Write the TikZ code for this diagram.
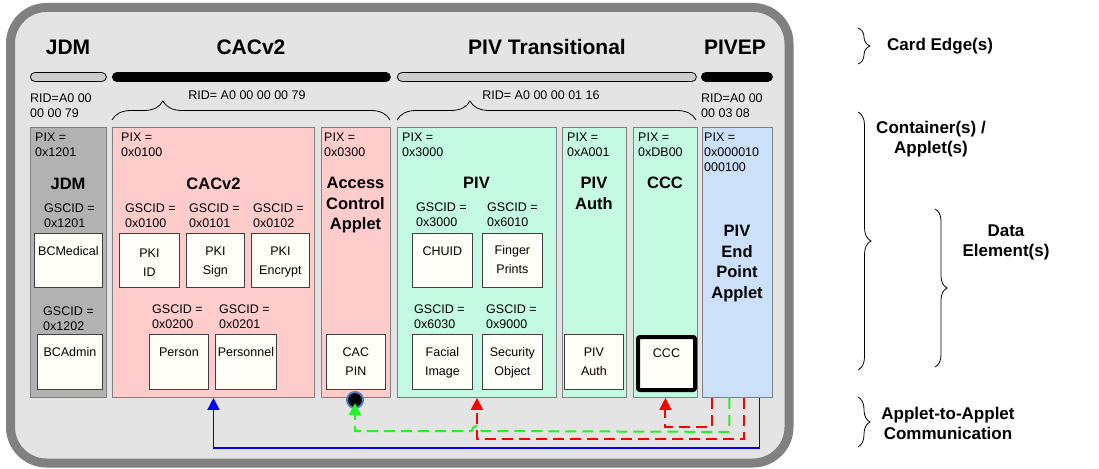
\documentclass[tikz,border=0pt]{standalone}
\usepackage{fontspec}
\setmainfont{Liberation Sans}
\usetikzlibrary{arrows.meta,decorations.pathreplacing,calc}
\definecolor{cardbg}{RGB}{228,228,228}
\definecolor{cardedge}{RGB}{128,128,128}
\definecolor{jdmfill}{RGB}{178,178,178}
\definecolor{cacfill}{RGB}{255,204,204}
\definecolor{pivfill}{RGB}{196,250,226}
\definecolor{epfill}{RGB}{204,224,250}
\definecolor{barfill}{RGB}{204,204,204}
\definecolor{boxfill}{RGB}{255,255,247}
\definecolor{panelline}{RGB}{128,128,128}
\definecolor{linkred}{RGB}{255,0,0}
\definecolor{linkgreen}{RGB}{40,240,40}
\definecolor{linkblue}{RGB}{0,0,255}
\definecolor{ringblue}{RGB}{79,129,189}
\begin{document}
\begin{tikzpicture}[x=1pt,y=-1pt,
  panel/.style={draw=panelline,line width=0.9pt,anchor=north west,minimum height=270pt,inner sep=0pt},
  dbox/.style={draw=black!75,line width=0.8pt,fill=boxfill,anchor=north west,inner sep=0pt},
  txt/.style={inner sep=0pt,font=\fontsize{12.5}{15}\selectfont,align=left},
  btxt/.style={inner sep=0pt,font=\fontsize{12.5}{19}\selectfont,align=center,anchor=north},
  ptitle/.style={inner sep=0pt,font=\fontsize{16.5}{20.5}\selectfont\bfseries,align=center},
  ttitle/.style={inner sep=0pt,font=\fontsize{21}{25}\selectfont\bfseries},
  rlabel/.style={inner sep=0pt,font=\fontsize{17}{20}\selectfont\bfseries,align=center},
  edgebar/.style={rounded corners=4.5pt,minimum height=9pt,inner sep=0pt,anchor=west,line width=0.8pt},
  rbrace/.style={decorate,decoration={brace,amplitude=12pt},line width=0.8pt},
  tbrace/.style={decorate,decoration={brace,amplitude=19pt,aspect=#1},line width=0.8pt},
  link/.style={line width=2pt,dash pattern=on 11pt off 6pt},
  tip/.style={-{Triangle[length=12pt,width=12pt]}}
]
\useasboundingbox (0,0) rectangle (1099,468);
% card
\draw[line width=9pt,draw=cardedge,fill=cardbg,rounded corners=36pt] (10.5,7.5) rectangle (789,463);

% card edge titles and bars
\node[ttitle] (tJDM) at (68,47) {JDM};
\node[ttitle] (tCAC) at (251,47) {CACv2};
\node[ttitle] (tPIVT) at (547,47) {PIV Transitional};
\node[ttitle] (tPIVEP) at (735,47) {PIVEP};
\node[edgebar,draw=black,fill=barfill,minimum width=76pt] (bJDM) at (30,77) {};
\node[edgebar,draw=black,fill=black,minimum width=278pt] (bCAC) at (112,77) {};
\node[edgebar,draw=black,fill=barfill,minimum width=299pt] (bPIVT) at (397,77) {};
\node[edgebar,draw=black,fill=black,minimum width=71pt] (bPIVEP) at (701,77) {};

% RIDs
\node[txt,anchor=north west] (ridJ) at (30,93.5) {RID=A0 00\\00 00 79};
\node[txt] (ridC) at (247,95) {RID= A0 00 00 00 79};
\node[txt] (ridP) at (541,95) {RID= A0 00 00 01 16};
\node[txt,anchor=north west] (ridE) at (701,93.5) {RID=A0 00\\00 03 08};
\draw[tbrace=0.183] (112,120) -- (390,120);
\draw[tbrace=0.244] (397,120) -- (696,120);

% panels
\node[panel,fill=jdmfill,minimum width=76pt] (jdmP) at (30,127) {};
\node[panel,fill=cacfill,minimum width=202pt] (cacP) at (112,127) {};
\node[panel,fill=cacfill,minimum width=69pt] (accP) at (321,127) {};
\node[panel,fill=pivfill,minimum width=159pt] (pivP) at (397,127) {};
\node[panel,fill=pivfill,minimum width=64pt] (authP) at (562,127) {};
\node[panel,fill=pivfill,minimum width=64pt] (cccP) at (633,127) {};
\node[panel,fill=epfill,minimum width=70pt] (epP) at (702,127) {};

% PIX
\node[txt,anchor=north west] (pixJ) at (35,132.5) {PIX =\\0x1201};
\node[txt,anchor=north west] (pixC) at (121,132.5) {PIX =\\0x0100};
\node[txt,anchor=north west] (pixA) at (324,132.5) {PIX =\\0x0300};
\node[txt,anchor=north west] (pixP) at (402,132.5) {PIX =\\0x3000};
\node[txt,anchor=north west] (pixU) at (567,132.5) {PIX =\\0xA001};
\node[txt,anchor=north west] (pixK) at (638,132.5) {PIX =\\0xDB00};
\node[txt,anchor=north west] (pixE) at (704,132.5) {PIX =\\0x000010\\000100};

% panel titles
\node[ptitle] (nJDM) at (68,184) {JDM};
\node[ptitle] (nCAC) at (213.5,184) {CACv2};
\node[ptitle,anchor=north] (nACC) at (355.5,177) {Access\\Control\\Applet};
\node[ptitle] (nPIV) at (476.5,183) {PIV};
\node[ptitle,anchor=north] (nAUTH) at (594,177) {PIV\\Auth};
\node[ptitle] (nCCC) at (665,183) {CCC};
\node[ptitle,anchor=north] (nEP) at (737,225) {PIV\\End\\Point\\Applet};

% GSCIDs
\node[txt,anchor=north west] (g1) at (44,203.5) {GSCID =\\0x1201};
\node[txt,anchor=north west] (g2) at (43,306.5) {GSCID =\\0x1202};
\node[txt,anchor=north west] (g3) at (125,203.5) {GSCID =\\0x0100};
\node[txt,anchor=north west] (g4) at (189,203.5) {GSCID =\\0x0101};
\node[txt,anchor=north west] (g5) at (253,203.5) {GSCID =\\0x0102};
\node[txt,anchor=north west] (g6) at (152,304.5) {GSCID =\\0x0200};
\node[txt,anchor=north west] (g7) at (219,304.5) {GSCID =\\0x0201};
\node[txt,anchor=north west] (g8) at (416,202.5) {GSCID =\\0x3000};
\node[txt,anchor=north west] (g9) at (487,202.5) {GSCID =\\0x6010};
\node[txt,anchor=north west] (g10) at (414,304.5) {GSCID =\\0x6030};
\node[txt,anchor=north west] (g11) at (486,304.5) {GSCID =\\0x9000};

% data elements
\node[dbox,minimum width=68pt,minimum height=54pt] (bcmed) at (34,233) {};
\node[btxt] (bcmedT) at ([yshift=-13.5pt]bcmed.north) {BCMedical};
\node[dbox,minimum width=65pt,minimum height=55pt] (bcadm) at (37,334) {};
\node[btxt] (bcadmT) at ([yshift=-13.5pt]bcadm.north) {BCAdmin};
\node[dbox,minimum width=60pt,minimum height=54pt] (pkiid) at (119,233) {};
\node[btxt] (pkiidT) at ([yshift=-15.5pt]pkiid.north) {PKI\\ID};
\node[dbox,minimum width=58pt,minimum height=54pt] (pkisg) at (186,233) {};
\node[btxt] (pkisgT) at ([yshift=-14pt]pkisg.north) {PKI\\Sign};
\node[dbox,minimum width=58pt,minimum height=54pt] (pkien) at (251,233) {};
\node[btxt] (pkienT) at ([yshift=-14pt]pkien.north) {PKI\\Encrypt};
\node[dbox,minimum width=59pt,minimum height=55pt] (person) at (149,334) {};
\node[btxt] (personT) at ([yshift=-13.5pt]person.north) {Person};
\node[dbox,minimum width=61pt,minimum height=55pt] (personl) at (215,334) {};
\node[btxt] (personlT) at ([yshift=-13.5pt]personl.north) {Personnel};
\node[dbox,minimum width=59pt,minimum height=55pt] (cacpin) at (326,334) {};
\node[btxt] (cacpinT) at ([yshift=-13.5pt]cacpin.north) {CAC\\PIN};
\node[dbox,minimum width=60pt,minimum height=54pt] (chuid) at (412,233) {};
\node[btxt] (chuidT) at ([yshift=-13.5pt]chuid.north) {CHUID};
\node[dbox,minimum width=60pt,minimum height=54pt] (finger) at (482,233) {};
\node[btxt] (fingerT) at ([yshift=-12.5pt]finger.north) {Finger\\Prints};
\node[dbox,minimum width=60pt,minimum height=55pt] (facial) at (412,334) {};
\node[btxt] (facialT) at ([yshift=-13.5pt]facial.north) {Facial\\Image};
\node[dbox,minimum width=60pt,minimum height=55pt] (secobj) at (482,334) {};
\node[btxt] (secobjT) at ([yshift=-13.5pt]secobj.north) {Security\\Object};
\node[dbox,minimum width=59pt,minimum height=55pt] (pivauth) at (564,334) {};
\node[btxt] (pivauthT) at ([yshift=-13.5pt]pivauth.north) {PIV\\Auth};
\node[dbox,draw=black,line width=4pt,rounded corners=2pt,minimum width=57pt,minimum height=53pt] (ccc) at (636,335) {};
\node[btxt] (cccT) at ([yshift=-13.5pt]ccc.north) {CCC};

% PIN port
\node[circle,fill=black,draw=ringblue,line width=2pt,minimum size=16pt,inner sep=0pt] (pinport) at (355,400) {};

% applet-to-applet links
\draw[line width=1.5pt,linkblue,tip] ([xshift=22pt]epP.south) -- ++(0,50) -| (cacP.south);
\draw[link,linkred,tip] ([xshift=7pt]epP.south) -- ++(0,41) -| (pivP.south);
\draw[link,linkred,tip] ([xshift=-25pt]epP.south) -- ++(0,29) -| (cccP.south);
\draw[link,linkgreen,tip,shorten >=-6pt] ([xshift=-8pt]epP.south) -- ++(0,34) -- (481.7,431)
   arc[start angle=0,end angle=-180,radius=5] -| (pinport.south);

% legend
\draw[rbrace] (858,28) -- (858,64);
\node[rlabel,anchor=base west] (lEdge) at (887,51) {Card Edge(s)};
\draw[rbrace,decoration={amplitude=13pt}] (858,112) -- (858,370);
\node[rlabel,anchor=north] (lCont) at (931,120.5) {Container(s) /\\Applet(s)};
\draw[rbrace] (935,209) -- (935,367);
\node[rlabel,anchor=north] (lData) at (1006,225) {Data\\Element(s)};
\draw[rbrace] (858,397) -- (858,447);
\node[rlabel,anchor=north] (lComm) at (948,407) {Applet-to-Applet\\Communication};
\end{tikzpicture}
\end{document}
